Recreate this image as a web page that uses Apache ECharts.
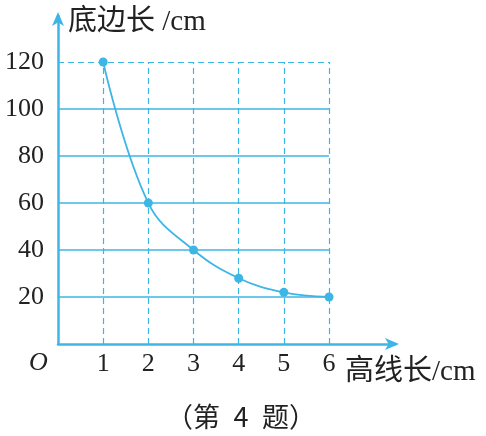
<!DOCTYPE html>
<html><head><meta charset="utf-8">
<script src="https://cdn.jsdelivr.net/npm/echarts@6/dist/echarts.min.js"></script>
<style>html,body{margin:0;padding:0;background:#fff}#c{width:486px;height:436px}</style>
</head><body><div id="c"></div>
<script>
var heights = [1, 2, 3, 4, 5, 6];
var baseLengths = [120, 60, 40, 28, 22, 20];
var xTicks = [1, 2, 3, 4, 5, 6];
var yTicks = [20, 40, 60, 80, 100, 120];
var xTitle = '高线长/cm';
var yTitle = '底边长 /cm';
var caption = '（第\u20024\u2002题）';

var blue = '#3db6e6';
var serif = '"Liberation Serif","Noto Sans CJK SC",serif';
var cjk = '"Noto Sans CJK SC","Liberation Serif",serif';
var xMax = xTicks[xTicks.length - 1];
var yMax = yTicks[yTicks.length - 1];

var gridLines = [];
yTicks.forEach(function (v) {
  var dashed = v === yMax;
  gridLines.push([{coord: [0, v], lineStyle: {type: dashed ? [6, 4] : 'solid', width: dashed ? 1.2 : 1.6}}, {coord: [xMax, v]}]);
});
xTicks.forEach(function (v) {
  gridLines.push([{coord: [v, 0], lineStyle: {type: [6, 4], width: 1.2}}, {coord: [v, yMax]}]);
});

var chart = echarts.init(document.getElementById('c'));
chart.setOption({
  animation: false,
  grid: {left: 58, right: 91, top: 16, bottom: 92},
  xAxis: {
    type: 'value', min: 0, max: 7.46,
    splitLine: {show: false},
    axisTick: {show: false},
    axisLine: {lineStyle: {color: blue, width: 2.5}, symbol: ['none', 'arrow'], symbolSize: [9, 14], symbolOffset: [0, 4]},
    axisLabel: {customValues: xTicks, margin: 7, fontFamily: serif, fontSize: 26, color: '#222'}
  },
  yAxis: {
    type: 'value', min: 0, max: 139.6,
    splitLine: {show: false},
    axisTick: {show: false},
    axisLine: {lineStyle: {color: blue, width: 2.5}, symbol: ['none', 'arrow'], symbolSize: [9, 14], symbolOffset: [0, 4]},
    axisLabel: {customValues: yTicks, margin: 14, fontFamily: serif, fontSize: 26, color: '#222'}
  },
  series: [{
    type: 'line',
    data: heights.map(function (h, i) { return [h, baseLengths[i]]; }),
    smooth: 0.4,
    symbol: 'circle', symbolSize: 9,
    lineStyle: {color: blue, width: 1.8},
    itemStyle: {color: blue},
    z: 5,
    markLine: {
      silent: true, symbol: 'none', label: {show: false},
      lineStyle: {color: blue},
      data: gridLines
    }
  }],
  graphic: [
    {type: 'text', style: {x: 68, y: 22, textVerticalAlign: 'middle', text: yTitle, font: '29px ' + serif, fill: '#222'}},
    {type: 'text', style: {x: 345, y: 372, textVerticalAlign: 'middle', text: xTitle, font: '29px ' + serif, fill: '#222'}},
    {type: 'text', style: {x: 29, y: 363, textVerticalAlign: 'middle', text: 'O', font: 'italic 26px ' + serif, fill: '#222'}},
    {type: 'text', style: {x: 241, y: 417, textAlign: 'center', textVerticalAlign: 'middle', text: caption, font: '27px ' + cjk, fill: '#222'}}
  ]
});
</script></body></html>
